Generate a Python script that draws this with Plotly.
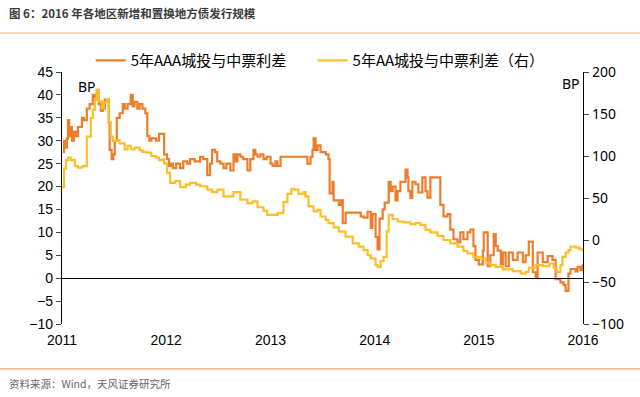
import plotly.graph_objects as go

title_text = "图 6：2016 年各地区新增和置换地方债发行规模"
source_text = "资料来源：Wind，天风证券研究所"
name_aaa = "5年AAA城投与中票利差"
name_aa = "5年AA城投与中票利差（右）"

aaa_dates = [
    "2011-01-04", "2011-01-08", "2011-01-11", "2011-01-18", "2011-01-22", "2011-01-26", "2011-02-01",
    "2011-02-05", "2011-02-12", "2011-02-19", "2011-02-26", "2011-03-05", "2011-03-12", "2011-03-19",
    "2011-03-29", "2011-04-08", "2011-04-19", "2011-04-26", "2011-05-03", "2011-05-10", "2011-05-17",
    "2011-05-24", "2011-05-31", "2011-06-07", "2011-06-14", "2011-06-17", "2011-06-24", "2011-06-30",
    "2011-07-05", "2011-07-12", "2011-07-22", "2011-08-02", "2011-08-09", "2011-08-19", "2011-08-30",
    "2011-09-06", "2011-09-12", "2011-09-22", "2011-09-30", "2011-10-10", "2011-10-20", "2011-10-27",
    "2011-11-03", "2011-11-10", "2011-11-27", "2011-12-07", "2011-12-18", "2011-12-25",
    "2012-01-04", "2012-01-11", "2012-01-18", "2012-01-25", "2012-02-05", "2012-02-19", "2012-03-01",
    "2012-03-15", "2012-03-25", "2012-04-10", "2012-04-29", "2012-05-10", "2012-05-24", "2012-06-03",
    "2012-06-10", "2012-06-20", "2012-06-28", "2012-07-09", "2012-07-20", "2012-07-30", "2012-08-13",
    "2012-08-24", "2012-08-31", "2012-09-07", "2012-09-17", "2012-09-27", "2012-10-12", "2012-10-22",
    "2012-11-02", "2012-11-09", "2012-11-16", "2012-11-26", "2012-12-07", "2012-12-18",
    "2013-01-01", "2013-01-08", "2013-01-18", "2013-01-25", "2013-02-05", "2013-03-01", "2013-03-15",
    "2013-04-09", "2013-04-20", "2013-05-10", "2013-05-21", "2013-05-28", "2013-06-01", "2013-06-08",
    "2013-06-15", "2013-06-25", "2013-07-13", "2013-07-23", "2013-07-27", "2013-08-06", "2013-08-10",
    "2013-08-28", "2013-09-05", "2013-09-11", "2013-09-21", "2013-10-16", "2013-11-06", "2013-11-13",
    "2013-11-23", "2013-12-07", "2013-12-18", "2013-12-24",
    "2014-01-04", "2014-01-11", "2014-01-18", "2014-01-29", "2014-02-05", "2014-02-19", "2014-02-26",
    "2014-03-05", "2014-03-15", "2014-03-22", "2014-04-01", "2014-04-12", "2014-04-19", "2014-04-26",
    "2014-04-29", "2014-05-06", "2014-05-13", "2014-05-24", "2014-06-03", "2014-06-17", "2014-06-28",
    "2014-07-05", "2014-07-15", "2014-08-09", "2014-08-19", "2014-08-30", "2014-09-13", "2014-09-23",
    "2014-10-04", "2014-10-18", "2014-10-28", "2014-11-08", "2014-11-22", "2014-12-02", "2014-12-13",
    "2014-12-20",
    "2015-01-01", "2015-01-15", "2015-01-18", "2015-02-01", "2015-02-10", "2015-02-22", "2015-03-01",
    "2015-03-08", "2015-03-19", "2015-03-26", "2015-04-05", "2015-04-16", "2015-04-30", "2015-05-17",
    "2015-06-04", "2015-06-14", "2015-06-25", "2015-07-09", "2015-07-19", "2015-07-26", "2015-08-13",
    "2015-08-30", "2015-09-16", "2015-09-27", "2015-10-14", "2015-10-25", "2015-11-01", "2015-11-11",
    "2015-11-18", "2015-12-06", "2015-12-13", "2015-12-23", "2015-12-31",
]
aaa_values = [
    27.5, 30, 28.5, 30.5, 34.5, 31, 33,
    30, 32, 31, 33, 33, 35, 34.5,
    37, 38, 40, 39, 41, 38, 36.5,
    37, 39, 39, 34, 28, 26, 27,
    30, 35, 36, 38, 37, 38, 40,
    37.5, 38.5, 37, 38, 37, 36, 31,
    30, 30.5, 30, 31.5, 31.5, 27,
    26, 24.5, 25, 24, 25, 24, 25.5,
    25, 26, 25.5, 26.5, 26, 22.5, 25,
    28, 27.5, 25.5, 25, 24, 25, 23.5,
    27, 25.5, 27, 26.5, 26, 23.5, 26,
    28, 27, 26.5, 27, 26, 26.5,
    25, 24.5, 25.5, 24.5, 26.5, 26.5, 26.5,
    26.5, 26.5, 25, 26.5, 28, 30.5, 28,
    29, 27.5, 27, 26, 18.5, 21, 17,
    16, 17, 12, 14.3, 14.3, 14.3, 13.5,
    13.2, 14.5, 11, 14,
    9, 6.3, 13, 15, 16.5, 21, 19,
    20, 17, 19, 21, 21, 23.7, 22,
    19, 17.5, 21, 20.5, 18.7, 22, 19,
    17.6, 22, 22, 16, 13.5, 14, 10.6,
    8.5, 7.8, 10, 8.5, 10, 10.6, 7,
    4,
    3, 6, 10, 2.6, 5, 9.6, 7,
    6, 3, 5.6, 2.6, 5.6, 4, 5.6,
    3.5, 5, 8, 1.3, 0.3, 5.6, 3.5,
    4.8, 4, -0.2, -0.9, -1.5, -2.8, 1,
    2, 1.5, 2.5, 1.8, 3,
]

aa_dates = [
    "2011-01-01", "2011-01-08", "2011-01-15", "2011-01-22", "2011-02-01", "2011-02-15", "2011-02-26",
    "2011-03-12", "2011-03-29", "2011-04-12", "2011-04-19", "2011-04-26", "2011-05-03", "2011-05-10",
    "2011-05-20", "2011-05-27", "2011-06-07", "2011-06-14", "2011-06-21", "2011-06-28", "2011-07-12",
    "2011-07-22", "2011-08-09", "2011-08-19", "2011-08-30", "2011-09-12", "2011-09-30", "2011-10-10",
    "2011-10-24", "2011-11-10", "2011-11-27", "2011-12-07", "2011-12-18", "2011-12-25",
    "2012-01-04", "2012-01-15", "2012-02-01", "2012-02-19", "2012-03-10", "2012-03-25", "2012-04-15",
    "2012-04-29", "2012-05-24", "2012-06-10", "2012-06-28", "2012-07-20", "2012-08-24", "2012-09-17",
    "2012-10-12", "2012-10-30", "2012-11-16", "2012-12-07", "2012-12-20",
    "2013-01-10", "2013-01-25", "2013-02-15", "2013-03-01", "2013-03-15", "2013-03-25", "2013-04-09",
    "2013-04-26", "2013-05-03", "2013-05-14", "2013-06-01", "2013-06-15", "2013-06-25", "2013-07-13",
    "2013-07-23", "2013-08-10", "2013-08-28", "2013-09-21", "2013-10-16", "2013-11-06", "2013-11-23",
    "2013-12-07", "2013-12-18",
    "2014-01-04", "2014-01-11", "2014-01-22", "2014-02-01", "2014-02-12", "2014-02-19", "2014-03-05",
    "2014-03-22", "2014-04-12", "2014-05-06", "2014-05-24", "2014-06-10", "2014-06-28", "2014-07-15",
    "2014-08-09", "2014-08-30", "2014-09-23", "2014-10-18", "2014-11-08", "2014-11-22", "2014-12-13",
    "2015-01-08", "2015-01-25", "2015-02-10", "2015-03-01", "2015-03-26", "2015-04-30", "2015-05-28",
    "2015-06-14", "2015-06-25", "2015-07-19", "2015-08-13", "2015-09-06", "2015-09-20", "2015-09-30",
    "2015-10-14", "2015-10-21", "2015-11-01", "2015-11-11", "2015-11-18", "2015-12-06", "2015-12-20",
    "2015-12-31",
]
aa_values = [
    63, 85, 95, 98, 95, 88, 86,
    88, 123, 145, 155, 168, 179, 165,
    157, 164, 167, 140, 123, 118, 119,
    115, 108, 112, 108, 110, 107, 105,
    104, 100, 98, 95, 96, 91,
    80, 68, 70, 63, 66, 68, 66,
    64, 60, 57, 60, 52, 57, 48,
    44, 46, 39, 35, 30,
    30, 32, 45, 55, 61, 60, 55,
    57, 52, 40, 34, 36, 28, 24,
    20, 15, 10, 4, -4, -8, -12,
    -18, -22,
    -30, -32, -25, -20, 10, 30, 25,
    22, 21, 19, 20, 18, 12, 9,
    5, 0, -4, -8, -13, -16, -20,
    -22, -27, -30, -32, -35, -37, -40,
    -38, -33, -30, -31, -28, -33, -38,
    -30, -20, -15, -12, -8, -9, -11,
    -14,
]

left_ticks = [-10, -5, 0, 5, 10, 15, 20, 25, 30, 35, 40, 45]
right_ticks = [-100, -50, 0, 50, 100, 150, 200]
year_ticks = ["2011-01-01", "2012-01-01", "2013-01-01", "2014-01-01", "2015-01-01", "2016-01-01"]
year_labels = ["2011", "2012", "2013", "2014", "2015", "2016"]

c_orange = "#EE7D2B"
c_yellow = "#FDBE2C"

fig = go.Figure()
fig.add_trace(go.Scatter(x=aaa_dates, y=aaa_values, name=name_aaa, mode="lines", legend="legend",
                         line=dict(color=c_orange, width=2.2, shape="hv")))
fig.add_trace(go.Scatter(x=aa_dates, y=aa_values, name=name_aa, mode="lines", yaxis="y2",
                         legend="legend2", line=dict(color=c_yellow, width=2.2, shape="hv")))
fig.add_trace(go.Scatter(x=[], y=[], xaxis="x2", showlegend=False, hoverinfo="skip"))

tick_font = dict(family="Liberation Sans, Arial, sans-serif", size=14, color="#000000")
legend_font = dict(family="Noto Sans CJK SC, sans-serif", size=15, color="#000000")
y_lo, y_hi = left_ticks[0], left_ticks[-1]
fig.update_layout(
    width=640, height=397,
    margin=dict(l=62, r=57, t=72, b=73, autoexpand=False),
    paper_bgcolor="white", plot_bgcolor="white",
    font=dict(family="Noto Sans CJK SC, sans-serif", color="#000000"),
    xaxis=dict(range=[year_ticks[0], year_ticks[-1]], tickvals=year_ticks, ticktext=year_labels,
               showgrid=False, zeroline=False, showline=False, ticks="", tickfont=tick_font,
               ticklabelstandoff=6),
    xaxis2=dict(overlaying="x", anchor="free", position=(0 - y_lo) / (y_hi - y_lo),
                range=[year_ticks[0], year_ticks[-1]], tickvals=year_ticks, showticklabels=False,
                showline=True, linecolor="#000000", linewidth=1.2, ticks="outside", ticklen=5,
                tickcolor="#000000", showgrid=False, zeroline=False),
    yaxis=dict(range=[y_lo, y_hi], tickvals=left_ticks, showgrid=False, zeroline=False,
               showline=True, linecolor="#000000", linewidth=1.2, ticks="outside", ticklen=5,
               tickfont=tick_font),
    yaxis2=dict(range=[right_ticks[0], right_ticks[-1]], tickvals=right_ticks, overlaying="y",
                side="right", showgrid=False, zeroline=False, showline=True, linecolor="#000000",
                linewidth=1.2, ticks="outside", ticklen=5,
                tickfont=dict(family="Noto Sans, sans-serif", size=14, color="#000000")),
    legend=dict(orientation="h", x=0.055, xanchor="left", y=1.045, yanchor="middle",
                font=legend_font, bgcolor="rgba(0,0,0,0)", itemwidth=30),
    legend2=dict(orientation="h", x=0.481, xanchor="left", y=1.045, yanchor="middle",
                 font=legend_font, bgcolor="rgba(0,0,0,0)", itemwidth=30),
    showlegend=True,
)

fig.add_annotation(text="BP", xref="paper", yref="paper", x=0.048, y=0.944, xanchor="center",
                   yanchor="middle", showarrow=False,
                   font=dict(family="Noto Sans, sans-serif", size=14, color="#000000"))
fig.add_annotation(text="BP", xref="paper", yref="paper", x=0.977, y=0.956, xanchor="center",
                   yanchor="middle", showarrow=False,
                   font=dict(family="Noto Sans, sans-serif", size=14, color="#000000"))
fig.add_annotation(text=title_text, xref="paper", yref="paper", x=-0.105, xanchor="left",
                   y=1.235, yanchor="middle", showarrow=False,
                   font=dict(family="Noto Sans CJK SC, sans-serif", size=11.5, color="#3a3a3a",
                             weight="bold"))
fig.add_annotation(text=source_text, xref="paper", yref="paper", x=-0.105, xanchor="left",
                   y=-0.235, yanchor="middle", showarrow=False,
                   font=dict(family="Noto Sans CJK SC, sans-serif", size=10.5, color="#666666"))
fig.add_shape(type="line", xref="paper", yref="paper", x0=-0.12, x1=1.11, y0=1.155, y1=1.155,
              line=dict(color="#F3C9A4", width=1.5))
fig.add_shape(type="line", xref="paper", yref="paper", x0=-0.12, x1=1.11, y0=-0.178, y1=-0.178,
              line=dict(color="#F4A46C", width=1.2))

fig.write_html("out.html", config={"displayModeBar": False},
               post_script="document.body.style.margin='0';document.body.style.overflow='hidden';")
